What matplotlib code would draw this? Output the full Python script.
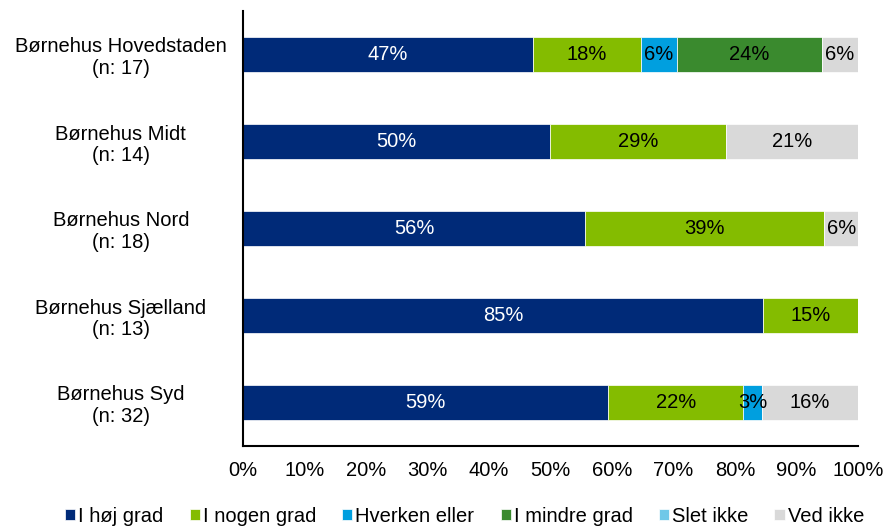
import matplotlib
matplotlib.use("Agg")
import matplotlib.pyplot as plt
import numpy as np

plt.rcParams['font.family'] = ['Liberation Sans', 'DejaVu Sans']

categories = ["Børnehus Hovedstaden\n(n: 17)", "Børnehus Midt\n(n: 14)", "Børnehus Nord\n(n: 18)",
              "Børnehus Sjælland\n(n: 13)", "Børnehus Syd\n(n: 32)"]
series_names = ["I høj grad", "I nogen grad", "Hverken eller", "I mindre grad", "Slet ikke", "Ved ikke"]
colors = ["#002A78", "#84BC00", "#009FDF", "#3A8A2E", "#6FC8E8", "#D9D9D9"]
text_colors = ["white", "black", "black", "black", "black", "black"]

hoej = [47.1, 50.0, 55.6, 84.6, 59.4]
nogen = [17.6, 28.6, 38.9, 15.4, 21.9]
hverken = [5.9, 0.0, 0.0, 0.0, 3.1]
mindre = [23.5, 0.0, 0.0, 0.0, 0.0]
slet = [0.0, 0.0, 0.0, 0.0, 0.0]
vedikke = [5.9, 21.4, 5.6, 0.0, 15.6]
series = [hoej, nogen, hverken, mindre, slet, vedikke]

FS = 14.5

fig = plt.figure(figsize=(8.95, 5.29), dpi=100)
ax = fig.add_axes([243/895, 83/529, 615/895, 435/529])

y = np.arange(len(categories))
left = np.zeros(len(categories))
for name, vals, c, tc in zip(series_names, series, colors, text_colors):
    vals = np.array(vals)
    ax.barh(y, vals, left=left, height=0.41, color=c, label=name,
            edgecolor="white", linewidth=0.5)
    for yi, v, l in zip(y, vals, left):
        if v > 0:
            ax.text(l + v / 2, yi, f"{v:.0f}%", ha="center", va="center",
                    color=tc, fontsize=FS)
    left += vals

ax.set_xlim(0, 100)
ax.set_ylim(len(categories) - 0.5, -0.5)
ax.set_yticks(y)
ax.set_yticklabels(categories, fontsize=FS, ha="center", linespacing=1.15)
ax.tick_params(axis="y", length=0, pad=88)
ax.set_xticks(np.arange(0, 101, 10))
ax.set_xticklabels([f"{t}%" for t in range(0, 101, 10)], fontsize=FS)
ax.tick_params(axis="x", length=0, pad=11)
for s in ["top", "right"]:
    ax.spines[s].set_visible(False)
ax.spines["left"].set_linewidth(1.5)
ax.spines["bottom"].set_linewidth(1.5)

handles, labels = ax.get_legend_handles_labels()
fig.legend(handles, labels, loc="center", bbox_to_anchor=(0.519, 0.024), ncol=6,
           frameon=False, fontsize=FS, handlelength=0.5, handleheight=0.5,
           handletextpad=0.15, columnspacing=1.3, borderpad=0)

fig.savefig("out.png", dpi=100)
